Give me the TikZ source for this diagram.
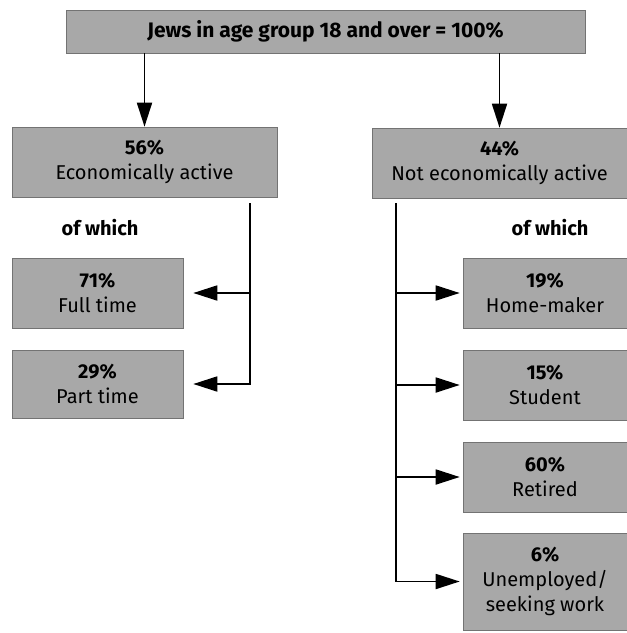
\documentclass[tikz,border=0pt]{standalone}
\usepackage{fontspec}
\setmainfont{Fira Sans}
\usepackage{xcolor}
\usetikzlibrary{arrows.meta,positioning}
\definecolor{shade}{HTML}{A8A8A8}

\begin{document}
\begin{tikzpicture}[x=1pt,y=-1pt,
  box/.style={draw=black!55,fill=shade,line width=0.6pt,inner sep=0pt,
    align=center,font=\fontsize{20}{25}\selectfont},
  lab/.style={font=\fontsize{20}{22}\selectfont\bfseries},
  link/.style={line width=1.8pt},
  arr/.style={link,-{Triangle[length=24pt,width=15pt]}}]
  \useasboundingbox (0,0) rectangle (627,633);
  % top
  \node[box,minimum width=519pt,minimum height=43pt,font=\fontsize{21}{24}\selectfont\bfseries]
    (all) at (325.5,31.5) {Jews in age group 18 and over = 100\%};
  % second row
  \node[box,minimum width=265pt,minimum height=70pt] (act) at (144.5,162)
    {\textbf{56\%}\\Economically active};
  \node[box,minimum width=255pt,minimum height=70pt] (nact) at (499.5,163)
    {\textbf{44\%}\\Not economically active};
  \node[lab] (ofl) at (100,228) {of which};
  \node[lab] (ofr) at (550,228) {of which};
  % left branch
  \node[box,minimum width=171pt,minimum height=70pt] (full) at (97.5,293)
    {\textbf{71\%}\\Full time};
  \node[box,minimum width=171pt,minimum height=68pt] (part) at (97.5,384)
    {\textbf{29\%}\\Part time};
  % right branch
  \node[box,minimum width=164pt,minimum height=70pt] (home) at (545,293)
    {\textbf{19\%}\\Home-maker};
  \node[box,minimum width=164pt,minimum height=70pt] (stud) at (545,385)
    {\textbf{15\%}\\Student};
  \node[box,minimum width=164pt,minimum height=70pt] (ret) at (545,477)
    {\textbf{60\%}\\Retired};
  \node[box,minimum width=164pt,minimum height=97pt] (unem) at (545,581.5)
    {\textbf{6\%}\\Unemployed/\\seeking work};
  \coordinate (lt) at (250,203);
  \coordinate (rt) at (396,203);
  \draw[arr] (all.south -| act.north) -- (act.north);
  \draw[arr] (all.south -| nact.north) -- (nact.north);
  \draw[arr,shorten >=10pt] (lt) |- (part.east);
  \draw[arr,shorten >=10pt] (lt |- full.east) -- (full.east);
  \draw[arr,shorten >=3pt] (rt) |- (unem.west);
  \foreach \b in {home,stud,ret}
    \draw[arr,shorten >=3pt] (rt |- \b.west) -- (\b.west);
\end{tikzpicture}
\end{document}
